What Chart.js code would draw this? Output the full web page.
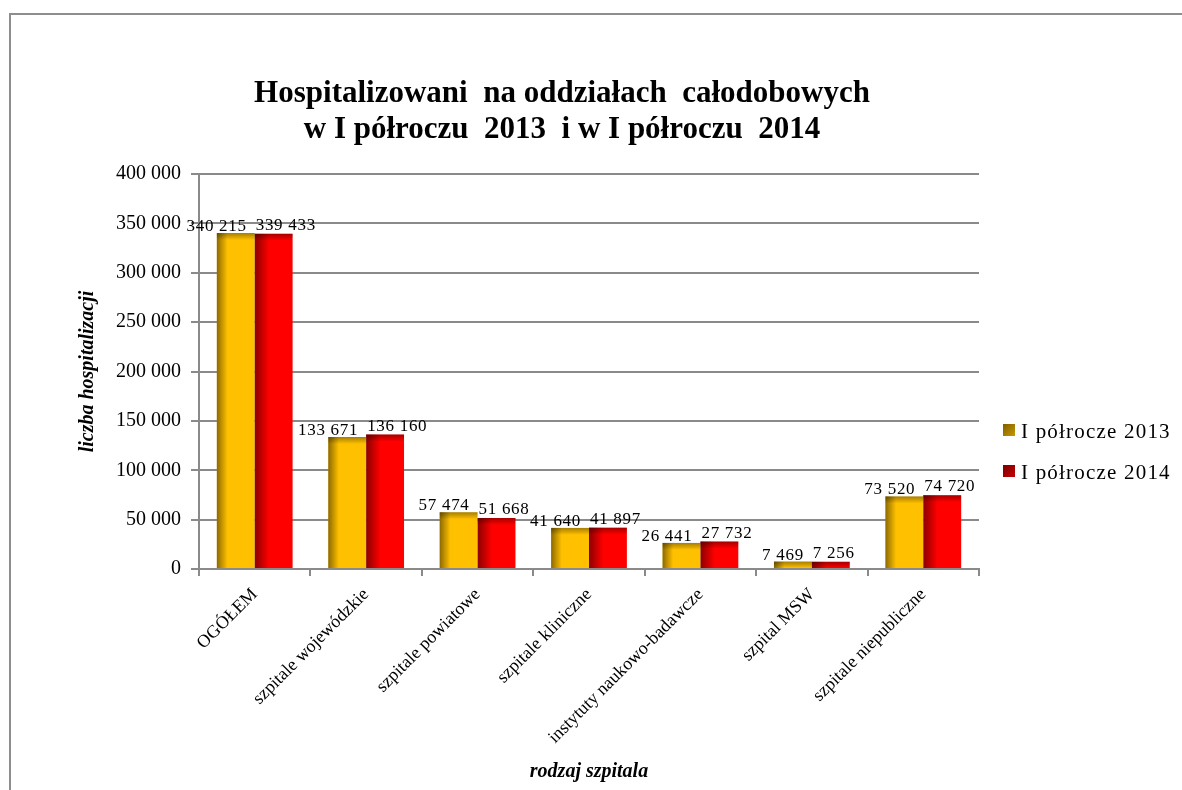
<!DOCTYPE html>
<html>
<head>
<meta charset="utf-8">
<script src="https://cdn.jsdelivr.net/npm/chart.js@4"></script>
<style>
  html, body { margin: 0; padding: 0; background: #ffffff; }
  #wrap { position: relative; width: 1182px; height: 790px; overflow: hidden; }
  #frame { position: absolute; left: 9px; top: 13px; width: 1200px; height: 800px;
           border-top: 2px solid #8e8e8e; border-left: 2px solid #8e8e8e; }
  canvas { position: absolute; left: 0; top: 0; }
</style>
</head>
<body>
<div id="wrap">
  <div id="frame"></div>
  <canvas id="c" width="1182" height="790"></canvas>
</div>
<script>
const categories = ['OGÓŁEM', 'szpitale wojewódzkie', 'szpitale powiatowe', 'szpitale kliniczne',
                    'instytuty naukowo-badawcze', 'szpital MSW', 'szpitale niepubliczne'];
const seriesNames = ['I półrocze 2013', 'I półrocze 2014'];
const values2013 = [340215, 133671, 57474, 41640, 26441, 7469, 73520];
const values2014 = [339433, 136160, 51668, 41897, 27732, 7256, 74720];
const yMin = 0, yMax = 400000, yStep = 50000;
const titleLines = ['Hospitalizowani  na oddziałach  całodobowych', 'w I półroczu  2013  i w I półroczu  2014'];
const yTitle = 'liczba hospitalizacji';
const xTitle = 'rodzaj szpitala';

const SERIF = "'Liberation Serif', 'Times New Roman', serif";
const fmt = v => String(v).replace(/\B(?=(\d{3})+(?!\d))/g, ' ');
const barColors = ['#FFC000', '#FF0000'];
const swatchColors = [['#7f5c00', '#c89a00'], ['#7a0000', '#c80000']];

const titlePlugin = {
  id: 'topTitle',
  afterDraw(chart) {
    const ctx = chart.ctx;
    ctx.save();
    ctx.font = 'bold 31px ' + SERIF;
    ctx.fillStyle = '#000';
    ctx.textAlign = 'center';
    ctx.textBaseline = 'middle';
    titleLines.forEach((t, i) => ctx.fillText(t, 562, 94 + i * 36));
    ctx.restore();
  }
};

const shadePlugin = {
  id: 'shade',
  afterDatasetsDraw(chart) {
    const ctx = chart.ctx;
    chart.data.datasets.forEach((ds, di) => {
      const meta = chart.getDatasetMeta(di);
      meta.data.forEach(el => {
        const p = el.getProps(['x', 'y', 'base', 'width'], true);
        const left = p.x - p.width / 2;
        const top = Math.min(p.y, p.base), h = Math.abs(p.base - p.y);
        ctx.save();
        let g = ctx.createLinearGradient(left, 0, left + p.width, 0);
        g.addColorStop(0, 'rgba(0,0,0,0.45)');
        g.addColorStop(di === 0 ? 0.28 : 0.38, 'rgba(0,0,0,0)');
        g.addColorStop(1, 'rgba(0,0,0,0)');
        ctx.fillStyle = g;
        ctx.fillRect(left, top, p.width, h);
        const th = Math.min(7, h);
        g = ctx.createLinearGradient(0, top, 0, top + th);
        g.addColorStop(0, 'rgba(0,0,0,0.35)');
        g.addColorStop(1, 'rgba(0,0,0,0)');
        ctx.fillStyle = g;
        ctx.fillRect(left, top, p.width, th);
        ctx.restore();
      });
    });
  }
};

const labelPlugin = {
  id: 'vlabels',
  afterDatasetsDraw(chart) {
    const ctx = chart.ctx;
    ctx.save();
    ctx.font = '17px ' + SERIF;
    ctx.fillStyle = '#000';
    ctx.textBaseline = 'alphabetic';
    try { ctx.letterSpacing = '0.7px'; } catch (e) {}
    chart.data.datasets.forEach((ds, di) => {
      const meta = chart.getDatasetMeta(di);
      meta.data.forEach((el, i) => {
        const p = el.getProps(['x', 'y', 'width'], true);
        const txt = fmt(ds.data[i]);
        if (di === 0) {
          ctx.textAlign = 'right';
          ctx.fillText(txt, p.x + p.width / 2 - 8, p.y - 2);
        } else {
          ctx.textAlign = 'left';
          ctx.fillText(txt, p.x - p.width / 2 + 1, p.y - 4);
        }
      });
    });
    ctx.restore();
  }
};

const legendPlugin = {
  id: 'sideLegend',
  afterDraw(chart) {
    const ctx = chart.ctx;
    ctx.save();
    chart.data.datasets.forEach((ds, di) => {
      const sx = 1003, sy = 424 + di * 41;
      const g = ctx.createLinearGradient(sx, sy, sx + 12, sy + 12);
      g.addColorStop(0, swatchColors[di][0]);
      g.addColorStop(1, swatchColors[di][1]);
      ctx.fillStyle = g;
      ctx.fillRect(sx, sy, 12, 12);
      ctx.fillStyle = '#000';
      ctx.font = '21px ' + SERIF;
      ctx.textAlign = 'left';
      ctx.textBaseline = 'alphabetic';
      try { ctx.letterSpacing = '1.2px'; } catch (e) {}
      ctx.fillText(ds.label, 1021, sy + 14);
    });
    ctx.restore();
  }
};

const gridGray = '#8a8a8a';

new Chart(document.getElementById('c'), {
  type: 'bar',
  data: {
    labels: categories,
    datasets: [
      { label: seriesNames[0], data: values2013, backgroundColor: barColors[0], borderWidth: 0,
        categoryPercentage: 0.68, barPercentage: 1.0 },
      { label: seriesNames[1], data: values2014, backgroundColor: barColors[1], borderWidth: 0,
        categoryPercentage: 0.68, barPercentage: 1.0 }
    ]
  },
  options: {
    responsive: false,
    animation: false,
    devicePixelRatio: 1,
    layout: { padding: { left: 0, right: 203, top: 174, bottom: 0 } },
    plugins: {
      legend: { display: false },
      tooltip: { enabled: false },
      title: { display: false }
    },
    scales: {
      x: {
        grid: { display: true, drawOnChartArea: false, drawTicks: true, tickLength: 7, color: gridGray, lineWidth: 2 },
        border: { display: true, color: gridGray, width: 2 },
        ticks: { color: '#000', font: { family: SERIF, size: 18 }, minRotation: 45, maxRotation: 45,
                 autoSkip: false, padding: 8 },
        title: { display: true, text: xTitle, color: '#000',
                 font: { family: SERIF, size: 20, weight: 'bold', style: 'italic' },
                 padding: { top: 0, bottom: 6 } },
        afterFit(scale) { scale.height = 221; }
      },
      y: {
        min: yMin, max: yMax,
        grid: { color: gridGray, lineWidth: 2, tickLength: 8, drawTicks: true },
        border: { display: true, color: gridGray, width: 2 },
        ticks: { stepSize: yStep, color: '#000', font: { family: SERIF, size: 20 }, padding: 10,
                 callback: v => fmt(v) },
        title: { display: true, text: yTitle, color: '#000',
                 font: { family: SERIF, size: 20, weight: 'bold', style: 'italic' },
                 padding: { top: 76, bottom: 0 } },
        afterFit(scale) { scale.width = 199; }
      }
    }
  },
  plugins: [shadePlugin, labelPlugin, legendPlugin, titlePlugin]
});
</script>
</body>
</html>
